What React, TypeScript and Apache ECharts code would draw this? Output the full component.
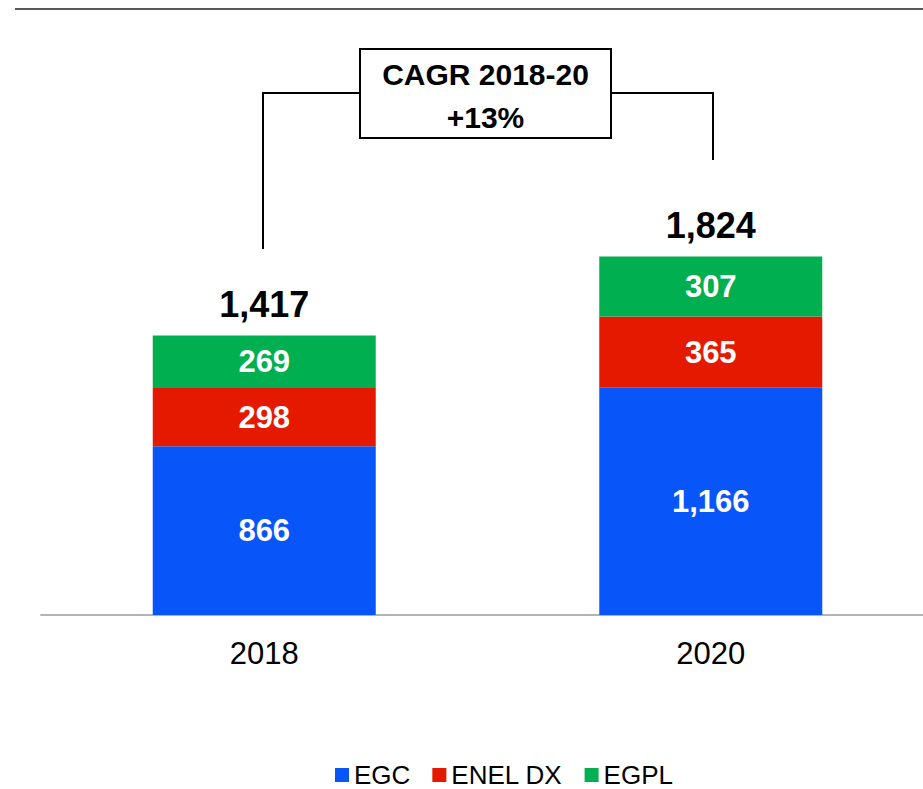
import React, { useEffect, useRef } from "react";
import * as echarts from "echarts";

const categories = ["2018", "2020"];
const seriesNames = ["EGC", "ENEL DX", "EGPL"];
const egcValues = [866, 1166];
const enelDxValues = [298, 365];
const egplValues = [269, 307];
const totals = [1417, 1824];
const colors = ["#0856FA", "#E51900", "#00AF50"];
const cagrLines = ["CAGR 2018-20", "+13%"];

const FONT = "'Liberation Sans', Arial, Helvetica, sans-serif";

const fmt = (v: number) => v.toLocaleString("en-US");

export default function App() {
  const ref = useRef<HTMLDivElement>(null);

  useEffect(() => {
    document.body.style.margin = "0";
    document.body.style.overflow = "hidden";
    if (!ref.current) return;
    const chart = echarts.init(ref.current, undefined, { renderer: "svg" });
    const valueSets = [egcValues, enelDxValues, egplValues];
    const barSeries = seriesNames.map((name, i) => ({
      name,
      type: "bar",
      stack: "total",
      barWidth: 223,
      data: valueSets[i],
      itemStyle: { color: colors[i] },
      label: {
        show: true,
        position: "inside",
        color: "#ffffff",
        fontSize: 31,
        fontWeight: "bold",
        fontFamily: FONT,
        formatter: (p: any) => fmt(p.value),
      },
    }));

    chart.setOption({
      animation: false,
      grid: { left: 41, right: 11, top: 30, bottom: 174 },
      xAxis: {
        type: "category",
        data: categories,
        axisLine: { show: true, lineStyle: { color: "#B3B3B3", width: 2 } },
        axisTick: { show: false },
        axisLabel: { color: "#000", fontSize: 31, fontFamily: FONT, margin: 23 },
      },
      yAxis: {
        type: "value",
        min: 0,
        max: 3000,
        show: false,
        splitLine: { show: false },
      },
      legend: {
        data: seriesNames,
        left: 330,
        top: 757,
        icon: "rect",
        itemWidth: 14,
        itemHeight: 14,
        itemGap: 22,
        textStyle: { color: "#000", fontSize: 26, fontFamily: FONT },
      },
      series: [
        ...barSeries,
        {
          name: "Total",
          type: "scatter",
          data: totals,
          symbolSize: 0,
          silent: true,
          itemStyle: { opacity: 1 },
          label: {
            show: true,
            position: "top",
            distance: 16,
            color: "#000",
            opacity: 1,
            fontSize: 36,
            fontWeight: "bold",
            fontFamily: FONT,
            formatter: (p: any) => fmt(p.value),
          },
        },
      ],
      graphic: [
        {
          type: "line",
          shape: { x1: 15, y1: 9, x2: 945, y2: 9 },
          style: { stroke: "#595959", lineWidth: 2 },
        },
        {
          type: "polyline",
          shape: { points: [[263, 249], [263, 93], [360, 93]] },
          style: { stroke: "#000", lineWidth: 2, fill: "none" },
        },
        {
          type: "polyline",
          shape: { points: [[611, 93], [713, 93], [713, 160]] },
          style: { stroke: "#000", lineWidth: 2, fill: "none" },
        },
        {
          type: "rect",
          shape: { x: 360, y: 49, width: 251, height: 89 },
          style: { stroke: "#000", lineWidth: 2, fill: "#fff" },
        },
        {
          type: "text",
          x: 485.5,
          y: 74,
          style: {
            text: cagrLines[0],
            fill: "#000",
            fontSize: 30,
            fontWeight: "bold",
            fontFamily: FONT,
            align: "center",
            verticalAlign: "middle",
          },
        },
        {
          type: "text",
          x: 485.5,
          y: 117,
          style: {
            text: cagrLines[1],
            fill: "#000",
            fontSize: 30,
            fontWeight: "bold",
            fontFamily: FONT,
            align: "center",
            verticalAlign: "middle",
          },
        },
      ],
    });
    return () => chart.dispose();
  }, []);

  return (
    <div style={{ width: 923, height: 789, overflow: "hidden" }}>
      <div ref={ref} style={{ width: 945, height: 789 }} />
    </div>
  );
}
